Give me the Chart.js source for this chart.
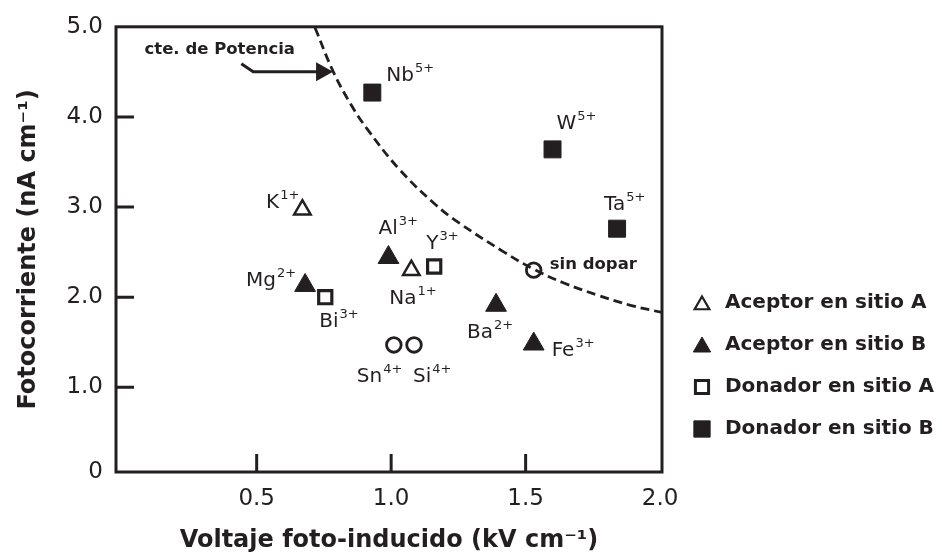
<!DOCTYPE html>
<html lang="es">
<head>
<meta charset="utf-8">
<title>Fotocorriente vs voltaje foto-inducido</title>
<script src="https://cdn.jsdelivr.net/npm/chart.js"></script>
<style>
  html, body { margin: 0; padding: 0; background: #fff; }
  #chart { display: block; }
</style>
</head>
<body>
<canvas id="chart" width="942" height="558"></canvas>
<script>
// dopants: [ion, charge, voltage (kV/cm), photocurrent (nA/cm)]
const aceptorA = [['K', '1+', 0.67, 2.97], ['Na', '1+', 1.075, 2.30]];
const aceptorB = [['Mg', '2+', 0.68, 2.13], ['Al', '3+', 0.99, 2.44], ['Ba', '2+', 1.39, 1.91], ['Fe', '3+', 1.53, 1.48]];
const donadorA = [['Bi', '3+', 0.755, 2.00], ['Y', '3+', 1.16, 2.34]];
const donadorB = [['Nb', '5+', 0.93, 4.27], ['W', '5+', 1.60, 3.64], ['Ta', '5+', 1.84, 2.76]];
const otros = [['Sn', '4+', 1.01, 1.47], ['Si', '4+', 1.085, 1.47], ['sin dopar', '', 1.53, 2.30]];

// constant power curve
const curveV = [0.717, 0.785, 0.85, 0.91, 1.03, 1.16, 1.25, 1.42, 1.53, 1.64, 1.77, 1.89, 2.007];
const curveI = [4.99, 4.50, 4.14, 3.87, 3.42, 3.04, 2.83, 2.50, 2.31, 2.16, 2.02, 1.91, 1.83];

const xTicks = [0.5, 1.0, 1.5, 2.0];
const xTickLabels = ['0.5', '1.0', '1.5', '2.0'];
const yTicks = [0, 1, 2, 3, 4, 5];
const yTickLabels = ['0', '1.0', '2.0', '3.0', '4.0', '5.0'];

const INK = '#231f20';
const FONT = '"DejaVu Sans", "Liberation Sans", Arial, sans-serif';
const CLEAR = 'rgba(255,255,255,0)';

// label placement around each marker: [dx, dy, align]
const labelOffset = {
    K: [-3, -2, 'right'], Na: [-22, 34], Mg: [-9, 1, 'right'], Al: [-10, -24],
    Ba: [-29, 33], Fe: [18, 12], Bi: [-6, 30], Y: [-8, -18],
    Nb: [14, -12], W: [4, -20], Ta: [-13, -19],
    Sn: [-37, 37], Si: [-1, 37], 'sin dopar': [16, -1]
};

const seriesLists = [aceptorA, aceptorB, donadorA, donadorB, otros];
const pts = list => list.map(d => ({ x: d[2], y: d[3] }));

// legend markers (smaller than plot markers)
const legendMarks = [
    { pointStyle: 'triangle', radius: 8.5, borderWidth: 2.2, fill: false, dy: 2 },
    { pointStyle: 'triangle', radius: 10, borderWidth: 1, fill: true, dy: 2 },
    { pointStyle: 'rect', radius: 9.3, borderWidth: 3, fill: false, dy: 0 },
    { pointStyle: 'rect', radius: 11.5, borderWidth: 1, fill: true, dy: 0 }
];

const frame = {
    id: 'frame',
    afterDraw(chart) {
        const { ctx, chartArea: a, scales: { x, y } } = chart;
        ctx.save();
        ctx.strokeStyle = INK;
        ctx.lineWidth = 3;
        ctx.strokeRect(a.left, a.top, a.right - a.left, a.bottom - a.top);
        ctx.beginPath();
        xTicks.forEach(v => {
            const px = x.getPixelForValue(v);
            if (px < a.right - 3) { ctx.moveTo(px, a.bottom); ctx.lineTo(px, a.bottom - 18); }
        });
        yTicks.forEach(v => {
            const py = y.getPixelForValue(v);
            if (py > a.top + 3 && py < a.bottom - 3) { ctx.moveTo(a.left, py); ctx.lineTo(a.left + 18, py); }
        });
        ctx.stroke();
        ctx.restore();
    }
};

const ionLabels = {
    id: 'ionLabels',
    afterDatasetsDraw(chart) {
        const ctx = chart.ctx;
        ctx.save();
        ctx.fillStyle = INK;
        ctx.textBaseline = 'alphabetic';
        ctx.textAlign = 'left';
        seriesLists.forEach((list, i) => {
            const meta = chart.getDatasetMeta(i);
            list.forEach((d, j) => {
                const el = meta.data[j];
                const [dx, dy, align] = labelOffset[d[0]];
                if (!d[1]) {
                    ctx.font = `bold 16.5px ${FONT}`;
                    ctx.fillText(d[0], el.x + dx, el.y + dy);
                    return;
                }
                ctx.font = `20px ${FONT}`;
                const w1 = ctx.measureText(d[0]).width;
                ctx.font = `13px ${FONT}`;
                const w2 = ctx.measureText(d[1]).width;
                const left = align === 'right' ? el.x + dx - w1 - w2 - 1 : el.x + dx;
                ctx.font = `20px ${FONT}`;
                ctx.fillText(d[0], left, el.y + dy);
                ctx.font = `13px ${FONT}`;
                ctx.fillText(d[1], left + w1 + 1, el.y + dy - 9);
            });
        });
        ctx.restore();
    }
};

// "cte. de Potencia" note with its bent arrow
const notePos = [0.083, 4.70];
const arrowPath = [[0.443, 4.59], [0.487, 4.50], [0.784, 4.50]];

const powerNote = {
    id: 'powerNote',
    afterDatasetsDraw(chart) {
        const { ctx, scales: { x, y } } = chart;
        ctx.save();
        ctx.fillStyle = INK;
        ctx.strokeStyle = INK;
        ctx.font = `bold 16.5px ${FONT}`;
        ctx.textBaseline = 'alphabetic';
        ctx.fillText('cte. de Potencia', x.getPixelForValue(notePos[0]), y.getPixelForValue(notePos[1]));

        const p = arrowPath.map(([v, c]) => [x.getPixelForValue(v), y.getPixelForValue(c)]);
        const [tx, ty] = p[p.length - 1];
        ctx.lineWidth = 3;
        ctx.beginPath();
        ctx.moveTo(p[0][0], p[0][1]);
        for (let k = 1; k < p.length - 1; k++) ctx.lineTo(p[k][0], p[k][1]);
        ctx.lineTo(tx - 15, ty);
        ctx.stroke();
        ctx.beginPath();
        ctx.moveTo(tx, ty);
        ctx.lineTo(tx - 17, ty - 9.5);
        ctx.lineTo(tx - 17, ty + 9.5);
        ctx.closePath();
        ctx.fill();
        ctx.restore();
    }
};

const sideLegend = {
    id: 'sideLegend',
    afterDraw(chart) {
        const ctx = chart.ctx;
        const x0 = 702, y0 = 303, step = 42;
        ctx.save();
        chart.data.datasets.slice(0, 4).forEach((ds, i) => {
            const m = legendMarks[i];
            const cy = y0 + i * step;
            ctx.fillStyle = m.fill ? INK : CLEAR;
            ctx.strokeStyle = INK;
            ctx.lineWidth = m.borderWidth;
            Chart.helpers.drawPoint(ctx, { pointStyle: m.pointStyle, radius: m.radius, borderWidth: m.borderWidth, rotation: 0 }, x0, cy + m.dy);
            ctx.fillStyle = INK;
            ctx.font = `bold 20px ${FONT}`;
            ctx.textBaseline = 'middle';
            ctx.textAlign = 'left';
            ctx.fillText(ds.label, 725, cy);
        });
        ctx.restore();
    }
};

const marker = (style, radius, bw, filled) => ({
    pointStyle: style,
    pointRadius: radius,
    pointBorderWidth: bw,
    pointBorderColor: INK,
    pointBackgroundColor: filled ? INK : CLEAR,
    borderColor: INK,
    backgroundColor: filled ? INK : CLEAR
});

new Chart(document.getElementById('chart'), {
    type: 'scatter',
    data: {
        datasets: [
            { label: 'Aceptor en sitio A', data: pts(aceptorA), ...marker('triangle', 9.5, 2.5, false) },
            { label: 'Aceptor en sitio B', data: pts(aceptorB), ...marker('triangle', 12, 1, true) },
            { label: 'Donador en sitio A', data: pts(donadorA), ...marker('rect', 9.3, 3.2, false) },
            { label: 'Donador en sitio B', data: pts(donadorB), ...marker('rect', 12, 1, true) },
            { label: 'Otros', data: pts(otros), ...marker('circle', 7.3, 2.8, false) },
            {
                label: 'cte. de Potencia',
                data: curveV.map((v, i) => ({ x: v, y: curveI[i] })),
                showLine: true,
                borderColor: INK,
                borderWidth: 2.8,
                borderDash: [9, 5],
                pointRadius: 0,
                tension: 0.4,
                order: 10
            }
        ]
    },
    options: {
        responsive: false,
        animation: false,
        events: [],
        layout: { padding: { left: 0, top: 22, right: 280, bottom: 0 } },
        plugins: { legend: { display: false }, tooltip: { enabled: false } },
        scales: {
            x: {
                type: 'linear',
                min: -0.023,
                max: 2.007,
                afterBuildTicks: s => { s.ticks = xTicks.map(v => ({ value: v })); },
                afterFit: s => { s.height = 86; },
                ticks: {
                    callback: (v, i) => xTickLabels[i],
                    font: { family: FONT, size: 23 },
                    color: INK,
                    padding: 13,
                    maxRotation: 0,
                    autoSkip: false
                },
                grid: { display: false, drawTicks: false },
                border: { display: false },
                title: {
                    display: true,
                    text: 'Voltaje foto-inducido (kV cm⁻¹)',
                    font: { family: FONT, size: 24, weight: 'bold' },
                    color: INK,
                    padding: { top: 0, bottom: 3 }
                }
            },
            y: {
                type: 'linear',
                min: 0.06,
                max: 5.0,
                afterBuildTicks: s => { s.ticks = yTicks.map(v => ({ value: Math.max(v, s.min) })); },
                afterFit: s => { s.width = 116; },
                ticks: {
                    callback: (v, i) => yTickLabels[i],
                    font: { family: FONT, size: 23 },
                    color: INK,
                    padding: 13,
                    autoSkip: false
                },
                grid: { display: false, drawTicks: false },
                border: { display: false },
                title: {
                    display: true,
                    text: 'Fotocorriente (nA cm⁻¹)',
                    font: { family: FONT, size: 24, weight: 'bold' },
                    color: INK,
                    padding: { top: 14, bottom: 0 }
                }
            }
        }
    },
    plugins: [frame, ionLabels, powerNote, sideLegend]
});
</script>
</body>
</html>
